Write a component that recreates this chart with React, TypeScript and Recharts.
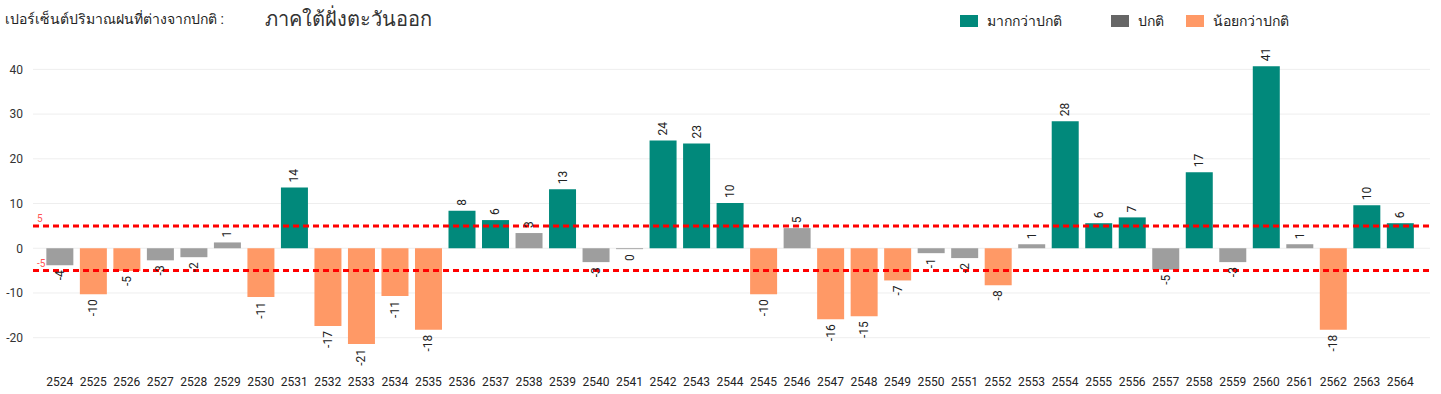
import { BarChart, Bar, XAxis, YAxis, CartesianGrid, ReferenceLine, Cell, LabelList } from "recharts";

const years = [
  "2524", "2525", "2526", "2527", "2528", "2529", "2530", "2531", "2532", "2533", "2534",
  "2535", "2536", "2537", "2538", "2539", "2540", "2541", "2542", "2543", "2544", "2545",
  "2546", "2547", "2548", "2549", "2550", "2551", "2552", "2553", "2554", "2555", "2556",
  "2557", "2558", "2559", "2560", "2561", "2562", "2563", "2564",
];

// percent departure from normal rainfall
const departure = [
  -3.8, -10.3, -5.1, -2.7, -2.0, 1.3, -10.9, 13.6, -17.4, -21.4, -10.7,
  -18.2, 8.4, 6.3, 3.4, 13.2, -3.1, -0.2, 24.1, 23.4, 10.1, -10.3,
  4.5, -15.9, -15.2, -7.2, -1.1, -2.2, -8.3, 0.9, 28.4, 5.6, 6.9,
  -4.8, 17.0, -3.1, 40.7, 0.9, -18.2, 9.6, 5.6,
];

const yTicks = [-20, -10, 0, 10, 20, 30, 40];
const threshold = 5;

const ABOVE = "#01897B";
const NORMAL = "#9E9E9E";
const BELOW = "#FF9966";

const data = years.map((year, i) => ({ year, value: departure[i] }));

const colorFor = (v: number) => (v > threshold ? ABOVE : v < -threshold ? BELOW : NORMAL);

const font = "Roboto, 'Noto Sans', sans-serif";

function ValueLabel(props: any) {
  const { x, y, width, height, value } = props;
  const cx = x + width / 2;
  const neg = value < 0;
  const top = Math.min(y, y + height);
  const bottom = Math.max(y, y + height);
  const ay = neg ? bottom + 5 : top - 5;
  return (
    <text
      x={cx}
      y={ay}
      transform={`rotate(-90 ${cx} ${ay})`}
      textAnchor={neg ? "end" : "start"}
      dominantBaseline="central"
      fontSize={12}
      fill="#222"
      fontFamily={font}
    >
      {Math.round(value)}
    </text>
  );
}

function LegendItem({ color, label, left }: { color: string; label: string; left: number }) {
  return (
    <div
      style={{
        position: "absolute",
        left,
        top: 10,
        display: "flex",
        alignItems: "center",
        whiteSpace: "nowrap",
      }}
    >
      <div style={{ width: 18, height: 12, background: color, marginRight: 9, flexShrink: 0 }} />
      <span style={{ fontSize: 14, color: "#222" }}>{label}</span>
    </div>
  );
}

export default function App() {
  return (
    <div style={{ position: "relative", width: 1441, height: 394, fontFamily: font, background: "#fff" }}>
      <style>{`body{margin:0}`}</style>
      <BarChart
        width={1441}
        height={394}
        data={data}
        margin={{ top: 47, right: 11, bottom: 0, left: 0 }}
        barCategoryGap="10%"
      >
        <CartesianGrid vertical={false} stroke="#EEEEEE" horizontalValues={yTicks} />
        <XAxis
          dataKey="year"
          interval={0}
          tickLine={false}
          axisLine={false}
          height={25}
          padding={{ left: 10, right: 13 }}
          tick={{ fill: "#222", fontSize: 12, fontFamily: font }}
        />
        <YAxis
          domain={[-27, 45]}
          ticks={yTicks}
          width={33}
          tickLine={false}
          axisLine={false}
          tickMargin={4}
          tick={{ fill: "#333", fontSize: 12, fontFamily: font }}
        />
        <Bar dataKey="value" isAnimationActive={false}>
          {data.map((d) => (
            <Cell key={d.year} fill={colorFor(d.value)} />
          ))}
          <LabelList dataKey="value" content={ValueLabel} />
        </Bar>
        <ReferenceLine
          y={threshold}
          stroke="#FF0000"
          strokeWidth={3}
          strokeDasharray="6 4"
          label={{ value: "5", position: "insideBottomLeft", fill: "#FF5555", fontSize: 10, offset: 4 }}
        />
        <ReferenceLine
          y={-threshold}
          stroke="#FF0000"
          strokeWidth={3}
          strokeDasharray="6 4"
          label={{ value: "-5", position: "insideBottomLeft", fill: "#FF5555", fontSize: 10, offset: 4 }}
        />
      </BarChart>
      <div style={{ position: "absolute", left: 5, top: 8, fontSize: 14, color: "#222", whiteSpace: "nowrap" }}>
        เปอร์เซ็นต์ปริมาณฝนที่ต่างจากปกติ :
      </div>
      <div style={{ position: "absolute", left: 265, top: 3, fontSize: 20, color: "#333", whiteSpace: "nowrap" }}>
        ภาคใต้ฝั่งตะวันออก
      </div>
      <LegendItem color={ABOVE} label="มากกว่าปกติ" left={960} />
      <LegendItem color="#666666" label="ปกติ" left={1111} />
      <LegendItem color={BELOW} label="น้อยกว่าปกติ" left={1186} />
    </div>
  );
}
